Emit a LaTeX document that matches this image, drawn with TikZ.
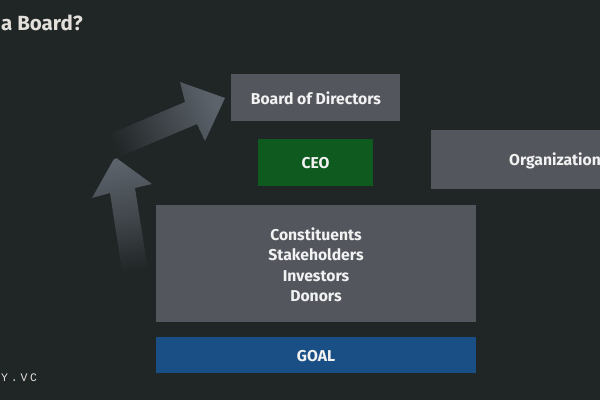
\documentclass[tikz,border=0pt]{standalone}
\usepackage{fontspec}
\setmainfont{Fira Sans}
\newfontfamily\monofont[LetterSpace=24]{Liberation Mono}
\definecolor{bgc}{HTML}{202526}
\definecolor{boxc}{HTML}{53575D}
\definecolor{ceoc}{HTML}{0F5A1E}
\definecolor{goalc}{HTML}{1A4F86}
\definecolor{txtc}{HTML}{F2F2F2}
\definecolor{titlec}{HTML}{E3E0DB}
\definecolor{arrc}{HTML}{5C636B}
\tikzset{
  box/.style={draw=none, inner sep=0pt, text=txtc, font=\bfseries\fontsize{15.7}{18}\selectfont, align=center},
  arrowshape/.style={draw=none}
}
\begin{document}
\begin{tikzpicture}[x=1pt,y=-1pt]
\fill[bgc] (0,0) rectangle (600,400);
\useasboundingbox (0,0) rectangle (600,400);
% title
\node[anchor=base west, inner sep=0pt, text=titlec, font=\bfseries\fontsize{20.5}{24}\selectfont] (title) at (1,30) {a Board?};
% footer
\node[anchor=base west, inner sep=0pt, text=titlec, font=\monofont\fontsize{11.5}{13}\selectfont] (foot) at (1,381) {Y.VC};
% boxes
\fill[boxc] (231,74) rectangle (400,121);
\node[box] (bod) at (316,98) {Board of Directors};
\fill[ceoc] (258,139) rectangle (373,186);
\node[box] (ceo) at (315.5,163) {CEO};
\fill[boxc] (431,130) rectangle (605,189);
\node[box, anchor=east] (org) at (601,161) {Organization};
\fill[boxc] (156,205) rectangle (476,322);
\node[box, font=\bfseries\fontsize{15.7}{20.5}\selectfont] (cons) at (316,265) {Constituents\\Stakeholders\\Investors\\Donors};
\fill[goalc] (156,337) rectangle (476,373);
\node[box] (goal) at (316,356) {GOAL};
% arrow 1 (upward)
\shade[arrowshape, top color=arrc, bottom color=bgc, middle color=arrc!55!bgc, shading angle=10]
  (123,277) -- (110,193) -- (92,198) -- (115,157) -- (152,184) -- (135,188) -- (149,277) -- cycle;
% arrow 2 (diagonal)
\shade[arrowshape, top color=arrc, bottom color=bgc, middle color=arrc!50!bgc, shading angle=-67]
  (100,138) -- (185,102) -- (180,82) -- (225,98) -- (205,141) -- (197,124) -- (112,160) -- cycle;
\end{tikzpicture}
\end{document}
